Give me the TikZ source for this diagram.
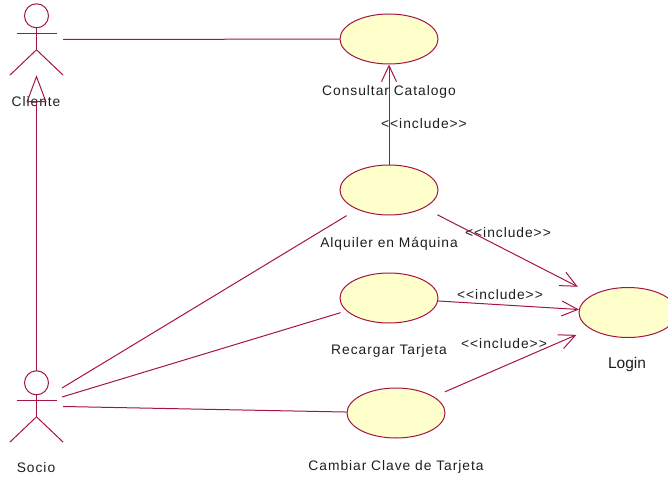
\documentclass[tikz,border=0pt]{standalone}
\usepackage{fontspec}
\setmainfont{Liberation Sans}
\newfontfamily\spacedfont{Liberation Sans}[LetterSpace=7]
\usetikzlibrary{shapes.geometric, arrows.meta}
\definecolor{umlline}{RGB}{165,20,70}
\definecolor{umlfill}{RGB}{255,255,203}
\definecolor{umltext}{RGB}{30,30,30}
% stick figure drawn around its node
\newcommand{\stickman}[1]{
  \draw[umlline, line width=1pt] ([yshift=-12pt]#1.north) circle (12pt);
  \draw[umlline, line width=1pt] ([shift={(-20pt,-29.5pt)}]#1.north) -- ([shift={(20pt,-29.5pt)}]#1.north);
  \draw[umlline, line width=1pt] ([yshift=-24pt]#1.north) -- ([yshift=-46pt]#1.north);
  \draw[umlline, line width=1pt] (#1.south west) -- ([yshift=-46pt]#1.north) -- (#1.south east);
}
\begin{document}
\begin{tikzpicture}[x=1pt, y=-1pt,
                    usecase/.style={ellipse, draw=umlline, fill=umlfill, minimum width=98pt, minimum height=50pt, inner sep=0pt, line width=1pt},
                    actor/.style={minimum width=53pt, minimum height=71pt, inner sep=0pt},
                    label/.style={font=\spacedfont\fontsize{13.8pt}{15pt}\selectfont, text=umltext, inner sep=0pt},
                    assoc/.style={draw=umlline, line width=1pt},
                    incl/.style={assoc, -{Straight Barb[length=16pt, width=15pt]}},
                    every node/.style={}]
\useasboundingbox (0,0) rectangle (668,481);
\node[actor] (cliente) at (36.5,39.5) {};
\node[actor] (socio) at (36.5,406.5) {};
\stickman{cliente}
\stickman{socio}
\coordinate (socioA) at (62,388);
\coordinate (socioB) at (62,397);
\node[usecase] (consultar) at (389,39) {};
\node[usecase] (alquiler) at (389,190) {};
\node[usecase] (recargar) at (389,298) {};
\node[usecase] (cambiar) at (396,413) {};
\node[usecase] (login) at (628,312.5) {};
\node[label] (clienteText) at (36,101.5) {Cliente};
\node[label] (socioText) at (36,468) {Socio};
\node[label] (consultarText) at (389,92) {Consultar Catalogo};
\node[label] (alquilerText) at (389,243.5) {Alquiler en Máquina};
\node[label] (recargarText) at (389,351) {Recargar Tarjeta};
\node[label] (cambiarText) at (396,466.5) {Cambiar Clave de Tarjeta};
\node[label, font=\fontsize{15.5pt}{17pt}\selectfont] (loginText) at (627,364.5) {Login};
\node[label] (inclConsultar) at (424,124) {<{}<include>{}>};
\node[label] (inclAlquiler) at (508,233) {<{}<include>{}>};
\node[label] (inclRecargar) at (500,295) {<{}<include>{}>};
\node[label] (inclCambiar) at (504,344) {<{}<include>{}>};
\draw[assoc] (cliente.east) -- (consultar);
\draw[assoc, shorten >=12pt] (socioA) -- (alquiler);
\draw[assoc, shorten >=6pt] (socioB) -- (recargar);
\draw[assoc] (socio.east) -- (cambiar);
\draw[assoc, -{Triangle[open, length=27pt, width=20pt]}] (socio.north) -- (cliente.south);
\draw[incl] (alquiler) -- (consultar);
\draw[incl, shorten <=15pt, shorten >=17pt] (alquiler) -- (login);
\draw[incl] (recargar) -- (login);
\draw[incl, shorten <=12pt, shorten >=15pt] (cambiar) -- (login);
\end{tikzpicture}
\end{document}
